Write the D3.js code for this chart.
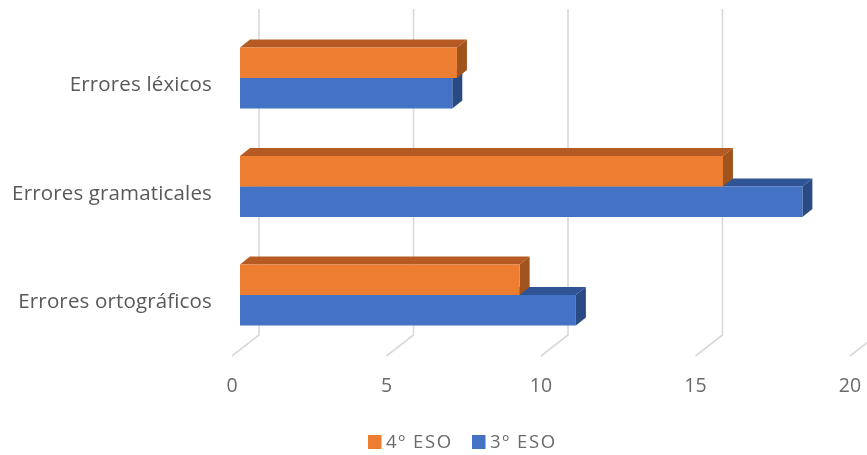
<!DOCTYPE html>
<html>
<head>
<meta charset="utf-8">
<script src="https://d3js.org/d3.v7.min.js"></script>
<style>
  html, body { margin: 0; padding: 0; background: #fff; overflow: hidden; }
  svg { display: block; filter: blur(0.6px); }
  text { font-family: "Open Sans", Lato, sans-serif; fill: #595959; }
</style>
</head>
<body>
<svg></svg>
<script>
// donnees
const categories = ["Errores léxicos", "Errores gramaticales", "Errores ortográficos"];
const series = ["4º ESO", "3º ESO"];
const values_4eso = [7.02, 15.63, 9.05];
const values_3eso = [6.87, 18.2, 10.87];
const ticks = [0, 5, 10, 15, 20];

const width = 867;
const height = 455;

// profondeur de l'effet 3D
const depthX = 10;
const depthY = 8;

const colors = {
  "4º ESO": { front: "#ed7d31", top: "#b55a22", side: "#a0531d" },
  "3º ESO": { front: "#4472c4", top: "#2f5496", side: "#2a4a84" }
};

const svg = d3.select("svg").attr("width", width).attr("height", height);

const x = d3.scaleLinear().domain([0, 20]).range([240, 858]);
const y = d3.scaleBand().domain(categories).range([23.5, 349]);
const ySub = d3.scaleBand().domain(series).range([24, 85]);

// grille : mur du fond + sol
const wallTop = 9;
const wallBottom = 335;
const grid = svg.append("g").attr("fill", "none").attr("stroke", "#d9d9d9").attr("stroke-width", 1.6);
ticks.forEach(t => {
  const xb = x(t) + 19;
  grid.append("path").attr("d", `M${xb},${wallTop}V${wallBottom}L${xb - 27},${wallBottom + 21}`);
});

// barres 3D : on dessine 3º ESO en premier, 4º ESO passe par dessus
function drawBars(name, values) {
  const c = colors[name];
  const g = svg.append("g");
  categories.forEach((cat, i) => {
    const x0 = x(0);
    const x1 = x(values[i]);
    const y0 = y(cat) + ySub(name);
    const h = ySub.bandwidth();
    g.append("path").attr("fill", c.top)
      .attr("d", `M${x0},${y0}l${depthX},${-depthY}H${x1 + depthX}l${-depthX},${depthY}Z`);
    g.append("path").attr("fill", c.side)
      .attr("d", `M${x1},${y0}l${depthX},${-depthY}v${h}l${-depthX},${depthY}Z`);
    g.append("rect").attr("fill", c.front)
      .attr("x", x0).attr("y", y0).attr("width", x1 - x0).attr("height", h);
  });
}
drawBars("3º ESO", values_3eso);
drawBars("4º ESO", values_4eso);

// labels categories
svg.append("g").selectAll("text").data(categories).join("text")
  .attr("x", 212)
  .attr("y", d => y(d) + y.bandwidth() / 2 + 8)
  .attr("text-anchor", "end")
  .attr("dominant-baseline", "middle")
  .attr("font-size", 20.5)
  .attr("letter-spacing", 0.15)
  .text(d => d);

// labels axe x
svg.append("g").selectAll("text").data(ticks).join("text")
  .attr("x", d => x(d) - 8)
  .attr("y", 392)
  .attr("text-anchor", "middle")
  .attr("font-size", 19.5)
  .style("fill", "#6a6a6a")
  .text(d => d);

// legende
const legendX = { "4º ESO": 368, "3º ESO": 472 };
const legend = svg.append("g");
series.forEach(name => {
  legend.append("rect")
    .attr("x", legendX[name]).attr("y", 435)
    .attr("width", 13.5).attr("height", 14)
    .attr("fill", colors[name].front);
  legend.append("text")
    .attr("x", legendX[name] + 18).attr("y", 448)
    .attr("font-size", 18.5)
    .attr("letter-spacing", 1.6)
    .style("fill", "#6a6a6a")
    .text(name);
});
</script>
</body>
</html>
